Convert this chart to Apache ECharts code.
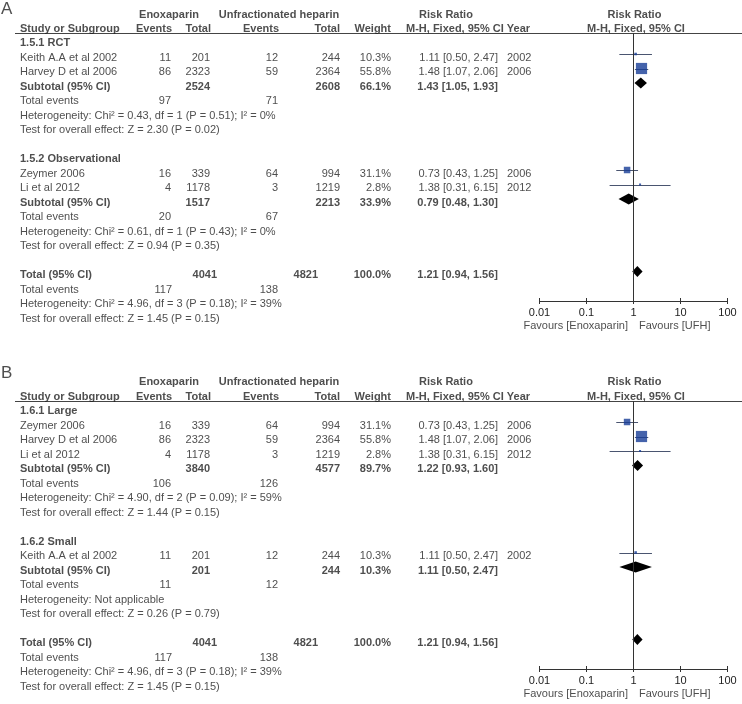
<!DOCTYPE html>
<html><head><meta charset="utf-8">
<script src="https://cdn.jsdelivr.net/npm/echarts@6/dist/echarts.min.js"></script>
<style>html,body{margin:0;padding:0;background:#fff}#c{width:742px;height:704px}</style>
</head><body><div id="c"></div>
<script>
// ---------- DATA ----------
const studyNames   = ['Keith A.A et al 2002', 'Harvey D et al 2006', 'Zeymer 2006', 'Li et al 2012'];
const enoxEvents   = [11, 86, 16, 4];
const enoxTotal    = [201, 2323, 339, 1178];
const ufhEvents    = [12, 59, 64, 3];
const ufhTotal     = [244, 2364, 994, 1219];
const studyWeight  = [10.3, 55.8, 31.1, 2.8];
const studyRR      = [1.11, 1.48, 0.73, 1.38];
const studyLow     = [0.50, 1.07, 0.43, 0.31];
const studyHigh    = [2.47, 2.06, 1.25, 6.15];
const studyYear    = [2002, 2006, 2006, 2012];

const panelLetters = ['A', 'B'];

// Panel A subgroups
const groupNamesA       = ['1.5.1 RCT', '1.5.2 Observational'];
const groupMembersA     = [[0, 1], [2, 3]];
const groupEnoxTotalA   = [2524, 1517];
const groupUfhTotalA    = [2608, 2213];
const groupEnoxEventsA  = [97, 20];
const groupUfhEventsA   = [71, 67];
const groupWeightA      = [66.1, 33.9];
const groupRRA          = [1.43, 0.79];
const groupLowA         = [1.05, 0.48];
const groupHighA        = [1.93, 1.30];
const groupHetA  = ['Heterogeneity: Chi² = 0.43, df = 1 (P = 0.51); I² = 0%', 'Heterogeneity: Chi² = 0.61, df = 1 (P = 0.43); I² = 0%'];
const groupTestA = ['Test for overall effect: Z = 2.30 (P = 0.02)', 'Test for overall effect: Z = 0.94 (P = 0.35)'];

// Panel B subgroups
const groupNamesB       = ['1.6.1 Large', '1.6.2 Small'];
const groupMembersB     = [[2, 1, 3], [0]];
const groupEnoxTotalB   = [3840, 201];
const groupUfhTotalB    = [4577, 244];
const groupEnoxEventsB  = [106, 11];
const groupUfhEventsB   = [126, 12];
const groupWeightB      = [89.7, 10.3];
const groupRRB          = [1.22, 1.11];
const groupLowB         = [0.93, 0.50];
const groupHighB        = [1.60, 2.47];
const groupHetB  = ['Heterogeneity: Chi² = 4.90, df = 2 (P = 0.09); I² = 59%', 'Heterogeneity: Not applicable'];
const groupTestB = ['Test for overall effect: Z = 1.44 (P = 0.15)', 'Test for overall effect: Z = 0.26 (P = 0.79)'];

// Overall (same in both panels)
const overallEnoxTotal  = 4041;
const overallUfhTotal   = 4821;
const overallWeight     = 100.0;
const overallRR         = 1.21;
const overallLow        = 0.94;
const overallHigh       = 1.56;
const overallEnoxEvents = 117;
const overallUfhEvents  = 138;
const overallHet  = 'Heterogeneity: Chi² = 4.96, df = 3 (P = 0.18); I² = 39%';
const overallTest = 'Test for overall effect: Z = 1.45 (P = 0.15)';

const headerTop = ['Enoxaparin', 'Unfractionated heparin', 'Risk Ratio', 'Risk Ratio'];
const headerSub = ['Study or Subgroup', 'Events', 'Total', 'Events', 'Total', 'Weight', 'M-H, Fixed, 95% CI Year', 'M-H, Fixed, 95% CI'];
const tickValues = [0.01, 0.1, 1, 10, 100];
const tickLabels = ['0.01', '0.1', '1', '10', '100'];
const favoursLeft  = 'Favours [Enoxaparin]';
const favoursRight = 'Favours [UFH]';

// ---------- LAYOUT ----------
const FONT = 'Liberation Sans, Arial, Helvetica, sans-serif';
const TXT = '#222';
const STEP = 14.5;
const PANEL_Y = [14, 382];        // pixel y of header row 0
const LETTER_ROW = [-0.33, -0.62];
const RULE_OFF = 19;              // header rule below row 0
const AXIS_OFF = 287;             // forest axis below row 0
const MARK_SHIFT = 3.5 / STEP;    // markers sit a bit above text centre
const FOREST_LEFT = 539.5, FOREST_W = 188;
const C = {name: 20, ev1: 171, tot1: 210, ev2: 278, tot2: 340, wt: 391, rr: 498, yr: 507,
           totAll1: 217, totAll2: 318};

const fmtW = w => w.toFixed(1) + '%';
const fmtRR = (e, l, h) => e.toFixed(2) + ' [' + l.toFixed(2) + ', ' + h.toFixed(2) + ']';

function buildPanel(p, g) {
  const texts = [], cis = [], boxes = [], diamonds = [];
  const T = (x, row, text, align, bold, extra) => texts.push({
    name: String(text), value: [x, row],
    label: Object.assign({align: align, fontWeight: bold ? 'bold' : 'normal'}, extra || {})
  });
  T(1, LETTER_ROW[p], panelLetters[p], 'left', false, {fontSize: 17});
  T(169, 0, headerTop[0], 'center', true);
  T(279, 0, headerTop[1], 'center', true);
  T(446, 0, headerTop[2], 'center', true);
  T(634.5, 0, headerTop[3], 'center', true);
  T(C.name, 1, headerSub[0], 'left', true);
  T(172, 1, headerSub[1], 'right', true);
  T(211, 1, headerSub[2], 'right', true);
  T(279, 1, headerSub[3], 'right', true);
  T(340, 1, headerSub[4], 'right', true);
  T(391, 1, headerSub[5], 'right', true);
  T(406, 1, headerSub[6], 'left', true);
  T(636, 1, headerSub[7], 'center', true);

  let row = 2;
  g.names.forEach((gn, gi) => {
    T(C.name, row, gn, 'left', true); row++;
    g.members[gi].forEach(i => {
      T(C.name, row, studyNames[i], 'left');
      T(C.ev1, row, enoxEvents[i], 'right');
      T(C.tot1, row, enoxTotal[i], 'right');
      T(C.ev2, row, ufhEvents[i], 'right');
      T(C.tot2, row, ufhTotal[i], 'right');
      T(C.wt, row, fmtW(studyWeight[i]), 'right');
      T(C.rr, row, fmtRR(studyRR[i], studyLow[i], studyHigh[i]), 'right');
      T(C.yr, row, studyYear[i], 'left');
      cis.push([studyLow[i], studyHigh[i], row]);
      boxes.push([studyRR[i], row, studyWeight[i]]);
      row++;
    });
    T(C.name, row, 'Subtotal (95% CI)', 'left', true);
    T(C.tot1, row, g.enoxTot[gi], 'right', true);
    T(C.tot2, row, g.ufhTot[gi], 'right', true);
    T(C.wt, row, fmtW(g.weight[gi]), 'right', true);
    T(C.rr, row, fmtRR(g.rr[gi], g.low[gi], g.high[gi]), 'right', true);
    diamonds.push([g.low[gi], g.rr[gi], g.high[gi], row]);
    row++;
    T(C.name, row, 'Total events', 'left');
    T(C.ev1, row, g.enoxEv[gi], 'right');
    T(C.ev2, row, g.ufhEv[gi], 'right');
    row++;
    T(C.name, row, g.het[gi], 'left'); row++;
    T(C.name, row, g.test[gi], 'left'); row++;
    row++;
  });
  T(C.name, row, 'Total (95% CI)', 'left', true);
  T(C.totAll1, row, overallEnoxTotal, 'right', true);
  T(C.totAll2, row, overallUfhTotal, 'right', true);
  T(C.wt, row, fmtW(overallWeight), 'right', true);
  T(C.rr, row, fmtRR(overallRR, overallLow, overallHigh), 'right', true);
  diamonds.push([overallLow, overallRR, overallHigh, row]);
  row++;
  T(C.name, row, 'Total events', 'left');
  T(C.ev1 + 1, row, overallEnoxEvents, 'right');
  T(C.ev2, row, overallUfhEvents, 'right');
  row++;
  T(C.name, row, overallHet, 'left'); row++;
  T(C.name, row, overallTest, 'left'); row++;
  T(628, 21.5, favoursLeft, 'right');
  T(639, 21.5, favoursRight, 'left');
  return {texts, cis, boxes, diamonds};
}

const panels = [
  buildPanel(0, {names: groupNamesA, members: groupMembersA, enoxTot: groupEnoxTotalA, ufhTot: groupUfhTotalA,
    enoxEv: groupEnoxEventsA, ufhEv: groupUfhEventsA, weight: groupWeightA, rr: groupRRA, low: groupLowA,
    high: groupHighA, het: groupHetA, test: groupTestA}),
  buildPanel(1, {names: groupNamesB, members: groupMembersB, enoxTot: groupEnoxTotalB, ufhTot: groupUfhTotalB,
    enoxEv: groupEnoxEventsB, ufhEv: groupUfhEventsB, weight: groupWeightB, rr: groupRRB, low: groupLowB,
    high: groupHighB, het: groupHetB, test: groupTestB})
];

const grid = [], xAxis = [], yAxis = [], series = [], graphic = [];
const tickFmt = v => {
  const k = tickValues.findIndex(t => Math.abs(Math.log10(t) - Math.log10(v)) < 1e-6);
  return k >= 0 ? tickLabels[k] : '';
};

panels.forEach((pd, p) => {
  const y0 = PANEL_Y[p];
  const gT = grid.length;
  grid.push({left: 0, width: 742, top: y0 - STEP, height: STEP * 23});
  const gF = grid.length;
  grid.push({left: FOREST_LEFT, width: FOREST_W, top: y0 + RULE_OFF, height: AXIS_OFF - RULE_OFF});
  const xT = xAxis.length;
  xAxis.push({gridIndex: gT, type: 'value', min: 0, max: 742, show: false});
  const xF = xAxis.length;
  xAxis.push({gridIndex: gF, type: 'log', logBase: 10, min: 0.01, max: 100, position: 'bottom',
    axisLine: {show: true, lineStyle: {color: '#333', width: 1}},
    axisTick: {show: true, length: 3, lineStyle: {color: '#333'}},
    splitLine: {show: false},
    axisLabel: {margin: 6, fontSize: 11, color: TXT, fontFamily: FONT, formatter: tickFmt}});
  xAxis.push({gridIndex: gF, type: 'log', logBase: 10, min: 0.01, max: 100, position: 'bottom',
    axisLine: {show: false}, axisTick: {show: true, inside: true, length: 3, lineStyle: {color: '#333'}},
    splitLine: {show: false}, axisLabel: {show: false}});
  const yT = yAxis.length;
  yAxis.push({gridIndex: gT, type: 'value', inverse: true, min: -1, max: 22, show: false});
  const yF = yAxis.length;
  yAxis.push({gridIndex: gF, type: 'value', inverse: true, min: RULE_OFF / STEP, max: AXIS_OFF / STEP, show: false});

  series.push({type: 'scatter', xAxisIndex: xT, yAxisIndex: yT, symbolSize: 0, silent: true, clip: false,
    data: pd.texts,
    label: {show: true, position: 'inside', formatter: q => q.name, color: TXT, fontSize: 11,
      fontFamily: FONT, verticalAlign: 'middle'}});
  series.push({type: 'custom', xAxisIndex: xF, yAxisIndex: yF, silent: true, clip: false,
    data: pd.cis, encode: {x: [0, 1], y: 2},
    renderItem: (params, api) => {
      const r = api.value(2) - MARK_SHIFT;
      const a = api.coord([api.value(0), r]);
      const b = api.coord([api.value(1), r]);
      return {type: 'line', shape: {x1: a[0], y1: Math.round(a[1]) + 0.5, x2: b[0], y2: Math.round(b[1]) + 0.5},
        style: {stroke: '#4a5570', lineWidth: 1}};
    }});
  series.push({type: 'scatter', xAxisIndex: xF, yAxisIndex: yF, silent: true, clip: false,
    data: pd.boxes.map(b => [b[0], b[1] - MARK_SHIFT, b[2]]),
    symbol: 'rect', symbolSize: v => Math.max(2, 0.19 * v[2] + 0.6),
    itemStyle: {color: '#173c96'},
    markLine: {silent: true, symbol: ['none', 'none'], label: {show: false},
      lineStyle: {color: '#333', width: 1, type: 'solid'}, data: [{xAxis: 1}]}});
  series.push({type: 'custom', xAxisIndex: xF, yAxisIndex: yF, silent: true, clip: false,
    data: pd.diamonds, encode: {x: [0, 1, 2], y: 3},
    renderItem: (params, api) => {
      const r = api.value(3) - MARK_SHIFT;
      const l = api.coord([api.value(0), r]);
      const m = api.coord([api.value(1), r]);
      const h = api.coord([api.value(2), r]);
      return {type: 'polygon', shape: {points: [[l[0], l[1]], [m[0], m[1] - 5.5], [h[0], h[1]], [m[0], m[1] + 5.5]]},
        style: {fill: '#000'}};
    }});
  graphic.push({type: 'line', silent: true,
    shape: {x1: 15, y1: y0 + RULE_OFF + 0.5, x2: 742, y2: y0 + RULE_OFF + 0.5},
    style: {stroke: '#444', lineWidth: 1}});
});

const chart = echarts.init(document.getElementById('c'), null, {renderer: 'canvas'});
chart.setOption({animation: false, backgroundColor: '#fff', textStyle: {fontFamily: FONT},
  grid, xAxis, yAxis, series, graphic});
</script></body></html>
